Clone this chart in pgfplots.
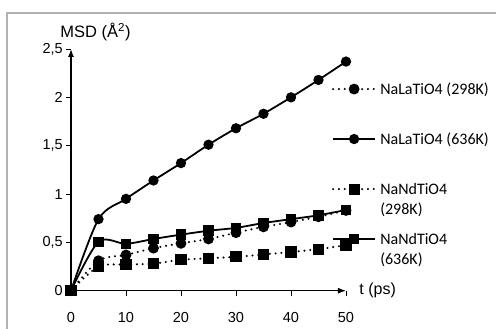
\documentclass[border=0pt]{standalone}
\usepackage{fontspec}
\setmainfont{Liberation Sans}
\newfontfamily\legendfont{Carlito}
\usepackage{pgfplots}
\usepackage{pgfplotstable}
\pgfplotsset{compat=1.18}
\usetikzlibrary{arrows.meta}

% Mean square displacement of Na (A^2) versus time (ps)
\pgfplotstableread{
t    LaLow  LaHigh  NdLow  NdHigh
0    0      0       0      0
5    0.31   0.74    0.25   0.505
10   0.37   0.95    0.27   0.485
15   0.44   1.14    0.28   0.535
20   0.49   1.32    0.32   0.58
25   0.535  1.51    0.335  0.62
30   0.60   1.68    0.35   0.65
35   0.66   1.83    0.375  0.70
40   0.71   2.00    0.40   0.74
45   0.765  2.18    0.43   0.78
50   0.83   2.37    0.47   0.835
}\msd

\pgfplotsset{
  dotline/.style={line width=2.3pt, dash pattern=on 0pt off 5.8pt, line cap=round},
  solidline/.style={line width=1.8pt},
}
% two-line legend text, baseline on the first line
\newcommand\twolines[2]{\vtop{\hbox{#1}\hbox{#2}}}

\begin{document}
\begin{tikzpicture}[x=1pt,y=1pt]
\useasboundingbox (0,0) rectangle (496,329);
% outer frame
\draw[gray!60, line width=1.2pt] (7,0) -- (7,316) -- (496,316);
\begin{axis}[
  at={(71pt,38.3pt)}, anchor=south west,
  scale only axis, width=275pt, height=241.7pt,
  xmin=0, xmax=50, ymin=0, ymax=2.5,
  axis lines=left,
  axis line style={line width=1.2pt, -{Latex[length=8pt,width=6pt]}},
  xtick={0,10,...,50}, ytick={0,0.5,...,2.5},
  tick align=outside, major tick length=5pt,
  tick style={black, line width=0.6pt},
  /pgf/number format/assume math mode=true,
  /pgf/number format/use comma,
  ticklabel style={font=\fontsize{14.5}{16}\selectfont, inner sep=0pt},
  xticklabel style={anchor=north, yshift=-16pt},
  yticklabel style={anchor=east, xshift=-3pt},
  clip=false,
  legend style={draw=none, fill=none, at={(axis description cs:0.949,0.917)},
    anchor=north west, inner sep=0pt, outer sep=0pt, row sep=0pt, column sep=4pt,
    nodes={font=\legendfont\fontsize{16}{20}\selectfont, inner sep=0pt,
      text height=25pt, text depth=25pt}},
  legend cell align=left,
  legend image code/.code={\draw[mark repeat=2, mark phase=2, #1]
    plot coordinates {(0pt,5pt) (21pt,5pt) (42pt,5pt)};},
]
\addplot[black, dotline, smooth, mark=*, mark size=4.2pt, mark options={solid}]
  table[x=t, y=LaLow] {\msd};
\addlegendentry{NaLaTiO4 (298K)}
\addplot[black, solidline, smooth, mark=*, mark size=4.2pt, mark options={solid}]
  table[x=t, y=LaHigh] {\msd};
\addlegendentry{NaLaTiO4 (636K)}
\addplot[black, dotline, smooth, mark=square*, mark size=4.4pt, mark options={solid}]
  table[x=t, y=NdLow] {\msd};
\addlegendentry{\twolines{NaNdTiO4}{(298K)}}
\addplot[black, solidline, smooth, mark=square*, mark size=4.4pt, mark options={solid}]
  table[x=t, y=NdHigh] {\msd};
\addlegendentry{\twolines{NaNdTiO4}{(636K)}}

\node[anchor=center, font=\fontsize{16.5}{18}\selectfont]
  at (rel axis cs:0.089,1.07) {MSD (Å\textsuperscript{2})};
\node[anchor=west, font=\fontsize{16}{18}\selectfont]
  at (rel axis cs:1.036,0) {t (ps)};
\end{axis}
\end{tikzpicture}
\end{document}
